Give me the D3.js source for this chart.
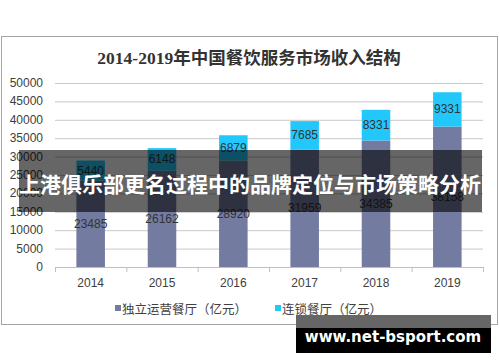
<!DOCTYPE html>
<html>
<head>
<meta charset="utf-8">
<script src="https://cdn.jsdelivr.net/npm/d3@7"></script>
<style>
  body { margin: 0; background: #fff; }
  text { font-family: "Liberation Sans", Arial, "Noto Sans CJK SC", sans-serif; }
</style>
</head>
<body>
<div id="chart"></div>
<script>
// data
var years = ["2014", "2015", "2016", "2017", "2018", "2019"];
var independent = [23485, 26162, 28920, 31959, 34385, 38158];
var chain = [5440, 6148, 6879, 7685, 8331, 9331];
var yTicks = [0, 5000, 10000, 15000, 20000, 25000, 30000, 35000, 40000, 45000, 50000];
var seriesNames = ["独立运营餐厅（亿元）", "连锁餐厅（亿元）"];
var colors = ["#737ba0", "#22c8fc"];

var svgWidth = 500;
var svgHeight = 362;

var svg = d3.select("#chart")
  .append("svg")
  .attr("width", svgWidth)
  .attr("height", svgHeight);

// chart frame
svg.append("rect")
  .attr("x", 1.5).attr("y", 36.5)
  .attr("width", 496).attr("height", 288)
  .attr("fill", "#fff")
  .attr("stroke", "#a6a6a6");

svg.append("text")
  .attr("x", 249).attr("y", 58)
  .attr("text-anchor", "middle")
  .attr("dominant-baseline", "central")
  .style("font-family", "'Liberation Serif', 'Noto Sans CJK SC', serif")
  .style("font-weight", "bold")
  .style("font-size", "17.5px")
  .attr("fill", "#333")
  .text("2014-2019年中国餐饮服务市场收入结构");

var x = d3.scaleBand()
  .domain(years)
  .range([55, 483])
  .paddingInner(0.6)
  .paddingOuter(0.3);

var y = d3.scaleLinear()
  .domain([0, 50000])
  .range([267, 83]);

// gridlines
svg.append("g")
  .selectAll("line")
  .data(yTicks.slice(1))
  .enter()
  .append("line")
  .attr("x1", 55).attr("x2", 483)
  .attr("y1", d => y(d) + 0.5).attr("y2", d => y(d) + 0.5)
  .attr("stroke", "#c8c8c8");

// y labels
svg.append("g")
  .selectAll("text")
  .data(yTicks)
  .enter()
  .append("text")
  .attr("x", 43)
  .attr("y", d => y(d))
  .attr("text-anchor", "end")
  .attr("dominant-baseline", "central")
  .style("font-size", "12px")
  .attr("fill", "#404040")
  .text(d => d);

// stacked bars
var rows = years.map((yr, i) => ({ year: yr, independent: independent[i], chain: chain[i] }));
var stack = d3.stack().keys(["independent", "chain"])(rows);

var layers = svg.append("g")
  .selectAll("g")
  .data(stack)
  .enter()
  .append("g")
  .attr("fill", (d, i) => colors[i]);

layers.selectAll("rect")
  .data(d => d)
  .enter()
  .append("rect")
  .attr("x", d => x(d.data.year))
  .attr("width", x.bandwidth())
  .attr("y", d => y(d[1]))
  .attr("height", d => y(d[0]) - y(d[1]));

layers.selectAll("text")
  .data(d => d)
  .enter()
  .append("text")
  .attr("x", d => x(d.data.year) + x.bandwidth() / 2)
  .attr("y", d => y((d[0] + d[1]) / 2))
  .attr("text-anchor", "middle")
  .attr("dominant-baseline", "central")
  .style("font-size", "12px")
  .attr("fill", "#333")
  .text(d => d[1] - d[0]);

// x axis
var xAxis = svg.append("g")
  .attr("transform", "translate(0, 267)");
xAxis.append("line")
  .attr("x1", 55).attr("x2", 483)
  .attr("y1", 0.5).attr("y2", 0.5)
  .attr("stroke", "#bfbfbf");
xAxis.selectAll("line.tick")
  .data(d3.range(years.length + 1))
  .enter()
  .append("line")
  .attr("class", "tick")
  .attr("x1", i => 55 + i * (428 / years.length) + 0.5)
  .attr("x2", i => 55 + i * (428 / years.length) + 0.5)
  .attr("y1", 0).attr("y2", 5)
  .attr("stroke", "#bfbfbf");
xAxis.selectAll("text")
  .data(years)
  .enter()
  .append("text")
  .attr("x", d => x(d) + x.bandwidth() / 2)
  .attr("y", 16)
  .attr("text-anchor", "middle")
  .attr("dominant-baseline", "central")
  .style("font-size", "12px")
  .attr("fill", "#404040")
  .text(d => d);

// legend
var legendX = [115, 275];
var legend = svg.append("g")
  .selectAll("g")
  .data(seriesNames)
  .enter()
  .append("g")
  .attr("transform", (d, i) => `translate(${legendX[i]}, 308)`);
legend.append("rect")
  .attr("x", 0).attr("y", -3)
  .attr("width", 6).attr("height", 6)
  .attr("fill", (d, i) => colors[i]);
legend.append("text")
  .attr("x", 7).attr("y", 0)
  .attr("dominant-baseline", "central")
  .style("font-family", "'Noto Sans CJK SC', sans-serif")
  .style("font-size", "12.5px")
  .attr("fill", "#404040")
  .text(d => d);

// overlay banner
svg.append("rect")
  .attr("x", 19).attr("y", 150)
  .attr("width", 463).attr("height", 62)
  .attr("fill", "rgba(0,0,0,0.6)");
svg.append("text")
  .attr("x", 250).attr("y", 183)
  .attr("text-anchor", "middle")
  .attr("dominant-baseline", "central")
  .style("font-family", "'Noto Sans CJK SC', sans-serif")
  .style("font-weight", "bold")
  .style("font-size", "21px")
  .attr("fill", "#fff")
  .text("上港俱乐部更名过程中的品牌定位与市场策略分析");

// watermark
svg.append("rect")
  .attr("x", 296).attr("y", 315)
  .attr("width", 195).attr("height", 13)
  .attr("fill", "#666");
svg.append("rect")
  .attr("x", 296).attr("y", 328)
  .attr("width", 195).attr("height", 25)
  .attr("fill", "#000");
svg.append("text")
  .attr("x", 393).attr("y", 337)
  .attr("text-anchor", "middle")
  .attr("dominant-baseline", "central")
  .style("font-family", "'DejaVu Sans', sans-serif")
  .style("font-weight", "bold")
  .style("font-size", "15px")
  .attr("fill", "#fff")
  .text("www.net-bsport.com");
</script>
</body>
</html>
